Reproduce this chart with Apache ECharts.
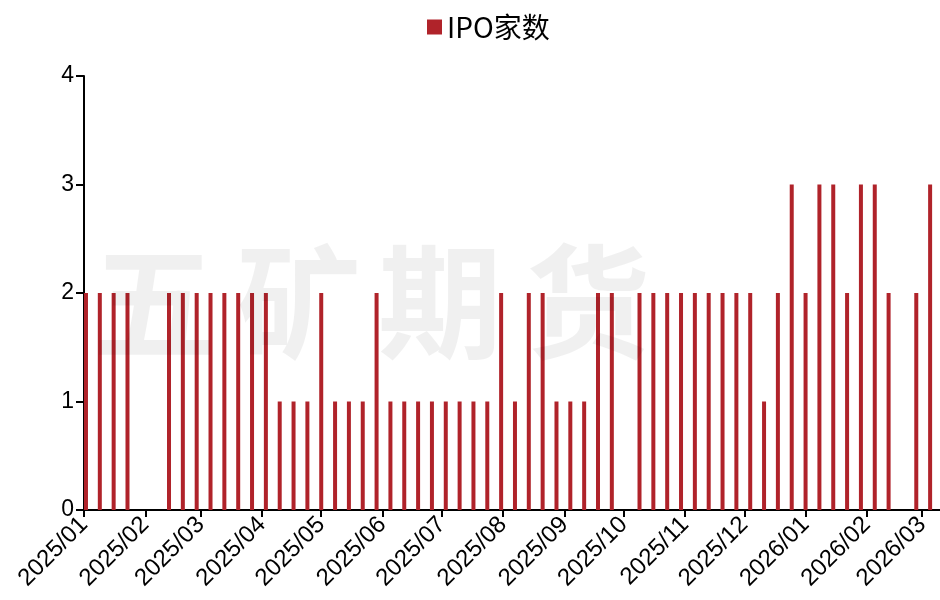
<!DOCTYPE html>
<html>
<head>
<meta charset="utf-8">
<title>IPO家数</title>
<script src="https://cdn.jsdelivr.net/npm/echarts@6/dist/echarts.min.js"></script>
<style>
  html, body { margin: 0; padding: 0; background: #ffffff; }
  #chart { width: 940px; height: 600px; }
</style>
</head>
<body>
<div id="chart"></div>
<script>
// Weekly IPO counts
const weeks = [
  '2025-01-02', '2025-01-09', '2025-01-16', '2025-01-23', '2025-01-30', '2025-02-06',
  '2025-02-13', '2025-02-20', '2025-02-27', '2025-03-06', '2025-03-13', '2025-03-20',
  '2025-03-27', '2025-04-03', '2025-04-10', '2025-04-17', '2025-04-24', '2025-05-01',
  '2025-05-08', '2025-05-15', '2025-05-22', '2025-05-29', '2025-06-05', '2025-06-12',
  '2025-06-19', '2025-06-26', '2025-07-03', '2025-07-10', '2025-07-17', '2025-07-24',
  '2025-07-31', '2025-08-07', '2025-08-14', '2025-08-21', '2025-08-28', '2025-09-04',
  '2025-09-11', '2025-09-18', '2025-09-25', '2025-10-02', '2025-10-09', '2025-10-16',
  '2025-10-23', '2025-10-30', '2025-11-06', '2025-11-13', '2025-11-20', '2025-11-27',
  '2025-12-04', '2025-12-11', '2025-12-18', '2025-12-25', '2026-01-01', '2026-01-08',
  '2026-01-15', '2026-01-22', '2026-01-29', '2026-02-05', '2026-02-12', '2026-02-19',
  '2026-02-26', '2026-03-05'
];
const ipoCount = [
  2, 2, 2, 2, 0, 0,
  2, 2, 2, 2, 2, 2,
  2, 2, 1, 1, 1, 2,
  1, 1, 1, 2, 1, 1,
  1, 1, 1, 1, 1, 1,
  2, 1, 2, 2, 1, 1,
  1, 2, 2, 0, 2, 2,
  2, 2, 2, 2, 2, 2,
  2, 1, 2, 3, 2, 3,
  3, 2, 3, 3, 2, 0,
  2, 3
];
// Month ticks on the date axis
const monthTicks = [
  '2025-01-01', '2025-02-01', '2025-03-01', '2025-04-01', '2025-05-01',
  '2025-06-01', '2025-07-01', '2025-08-01', '2025-09-01', '2025-10-01',
  '2025-11-01', '2025-12-01', '2026-01-01', '2026-02-01', '2026-03-01'
];
const xStart = '2025-01-01';
const xEnd = '2026-03-10';
const yTicks = [0, 1, 2, 3, 4];

const toTime = s => echarts.number.parseDate(s).getTime();
const fmtMonth = v => {
  const d = new Date(v);
  return d.getFullYear() + '/' + String(d.getMonth() + 1).padStart(2, '0');
};
const barColor = '#B0232A';
const latin = '"Liberation Sans", Arial, sans-serif';

const chart = echarts.init(document.getElementById('chart'), null, { renderer: 'canvas' });

// Light bold watermark laid over the plot
const markChars = [
  { t: '五', x: 154 },
  { t: '矿', x: 299 },
  { t: '期', x: 440 },
  { t: '货', x: 588 }
];

chart.setOption({
  animation: false,
  backgroundColor: '#ffffff',
  legend: {
    top: 8,
    left: 422,
    icon: 'rect',
    itemWidth: 15,
    itemHeight: 15,
    itemGap: 10,
    textStyle: { fontSize: 28, color: '#000', fontFamily: '"Noto Sans CJK SC", ' + latin },
    data: ['IPO家数']
  },
  grid: { left: 84, right: 0, top: 76, bottom: 90, containLabel: false },
  xAxis: {
    type: 'value',
    min: toTime(xStart),
    max: toTime(xEnd),
    axisLine: { show: true, lineStyle: { color: '#000', width: 2 } },
    axisTick: {
      show: true, length: 7, inside: false,
      lineStyle: { color: '#000', width: 2 },
      customValues: monthTicks.map(toTime)
    },
    axisLabel: {
      rotate: 45,
      margin: 11,
      fontSize: 24,
      color: '#000',
      fontFamily: latin,
      customValues: monthTicks.map(toTime),
      formatter: fmtMonth
    },
    splitLine: { show: false }
  },
  yAxis: {
    type: 'value',
    min: yTicks[0],
    max: yTicks[yTicks.length - 1],
    interval: 1,
    axisLine: { show: true, lineStyle: { color: '#000', width: 2 } },
    axisTick: { show: true, length: 8, lineStyle: { color: '#000', width: 2 } },
    axisLabel: { fontSize: 23, color: '#000', margin: 10, fontFamily: latin },
    splitLine: { show: false }
  },
  series: [{
    name: 'IPO家数',
    type: 'bar',
    barWidth: 4,
    itemStyle: { color: barColor },
    data: weeks.map((d, i) => [toTime(d), ipoCount[i]])
  }],
  graphic: markChars.map(c => ({
    type: 'text',
    z: 100,
    silent: true,
    x: c.x,
    y: 302,
    style: {
      text: c.t,
      fill: 'rgba(0,0,0,0.06)',
      font: 'bold 124px "Noto Sans CJK SC"',
      align: 'center',
      verticalAlign: 'middle'
    }
  }))
});
</script>
</body>
</html>
